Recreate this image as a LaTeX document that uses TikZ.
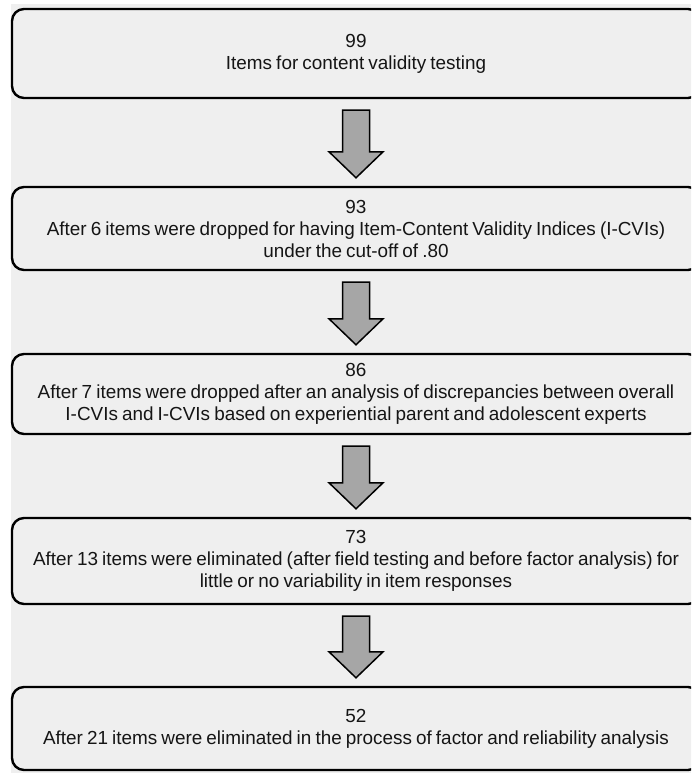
\documentclass[tikz,border=0pt]{standalone}
\usepackage{fontspec}
\setmainfont[WordSpace=0.78]{Liberation Sans}
\usetikzlibrary{calc}
\definecolor{bg}{HTML}{EFEFEF}
\definecolor{arrowgray}{HTML}{A6A6A6}
\definecolor{ink}{HTML}{151515}
\begin{document}
\begin{tikzpicture}[x=1pt,y=-1pt,
  box/.style={draw=black, line width=2.4pt, rounded corners=12pt, fill=bg,
    minimum width=688pt, inner sep=0pt, align=center, text=ink,
    font=\fontsize{18.9}{22}\selectfont},
  blockarrow/.style={draw=black, line width=1.5pt, fill=arrowgray, line join=miter}]
\useasboundingbox (0,0) rectangle (691,773);
\clip (0,0) rectangle (691,773);
\fill[white] (0,0) rectangle (691,773);
\fill[bg] (11,4) rectangle (691,773);

\node[box, minimum height=89pt] (b1) at (356,53.5)
  {99\\Items for content validity testing};
\node[box, minimum height=83pt] (b2) at (356,228.5)
  {93\\After 6 items were dropped for having Item-Content Validity Indices (I-CVIs)\\under the cut-off of .80};
\node[box, minimum height=80pt] (b3) at (356,394)
  {86\\After 7 items were dropped after an analysis of discrepancies between overall\\I-CVIs and I-CVIs based on experiential parent and adolescent experts};
\node[box, minimum height=86pt] (b4) at (356,561)
  {73\\After 13 items were eliminated (after field testing and before factor analysis) for\\little or no variability in item responses};
\node[box, minimum height=83pt] (b5) at (356,728.5)
  {52\\After 21 items were eliminated in the process of factor and reliability analysis};

\newcommand{\flowarrow}[2]{%
  \draw[blockarrow] let \p1=(#1.south), \p2=(#2.north) in
    (\x1-13.5pt,\y1-11pt) -- (\x1+13.5pt,\y1-11pt) -- (\x1+13.5pt,\y2+34pt)
    -- (\x1+27pt,\y2+34pt) -- (\x1,\y2+8pt) -- (\x1-27pt,\y2+34pt)
    -- (\x1-13.5pt,\y2+34pt) -- cycle;}
\flowarrow{b1}{b2}
\flowarrow{b2}{b3}
\flowarrow{b3}{b4}
\flowarrow{b4}{b5}
\end{tikzpicture}
\end{document}
